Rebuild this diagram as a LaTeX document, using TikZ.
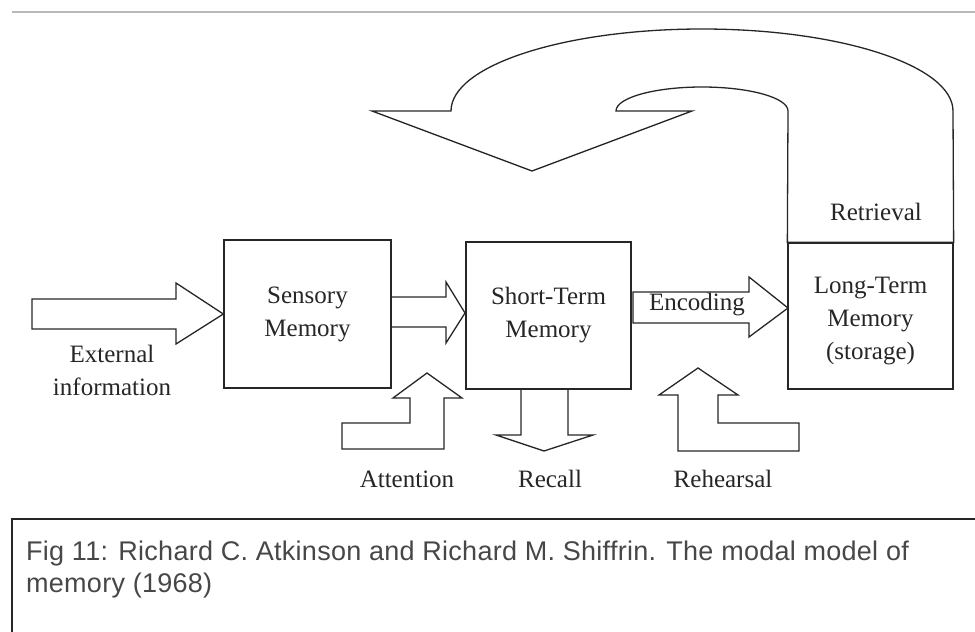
\documentclass[tikz,border=0pt]{standalone}
\usepackage{fontspec}
\setmainfont{Liberation Serif}
\newfontfamily\capfont[LetterSpace=1]{Liberation Sans}
\definecolor{ink}{HTML}{262626}
\definecolor{capink}{HTML}{474747}
\begin{document}
\begin{tikzpicture}[x=1pt,y=-1pt,
  box/.style={draw=ink, line width=1.3pt, inner sep=0pt, align=center,
    font=\fontsize{25}{33}\selectfont, text=ink},
  blk/.style={draw=ink, line width=1.3pt, line join=miter},
  lbl/.style={font=\fontsize{25}{33}\selectfont, text=ink, align=center, inner sep=0pt},
  captxt/.style={font=\capfont\fontsize{27}{32}\selectfont, text=capink, inner sep=0pt, anchor=base west}]
\useasboundingbox (0,0) rectangle (975,632);
% top rule
\draw[gray!55, line width=1.2pt] (12,12) -- (975,12);
% boxes
\node[box, minimum width=167pt, minimum height=148pt] (sm) at (307.5,314) {Sensory\\Memory};
\node[box, minimum width=165pt, minimum height=147pt] (stm) at (548.5,315.5) {Short-Term\\Memory};
\node[box, minimum width=165pt, minimum height=146pt] (ltm) at (870.5,316) {};
\node[lbl] (ltmtxt) at (ltm.center) [yshift=-5pt] {Long-Term\\Memory\\(storage)};
% retrieval curved arrow
\draw[blk] (372,111) -- (451,111)
  .. controls (451,65.7) and (563.4,29) .. (702,29)
  .. controls (840.6,29) and (953,65.7) .. (953,111)
  -- (ltm.north east) -- (ltm.north west) -- (788,111)
  .. controls (788,97.7) and (749.5,87) .. (702,87)
  .. controls (654.5,87) and (616,97.7) .. (616,111)
  -- (692,111) -- (532,171) -- cycle;
\node[lbl] (retr) at (876,212) {Retrieval};
% external information arrow
\draw[blk] (32,299) -- (176,299) -- (176,283) -- (sm.west) -- (176,344) -- (176,329) -- (32,329) -- cycle;
\node[lbl] (ext) at (112,370) {External\\information};
% sensory -> STM
\draw[blk] (sm.east |- 0,297) -- (446,297) -- (446,282) -- (465,313) -- (446,343) -- (446,327) -- (sm.east |- 0,327);
% encoding
\draw[blk] (633,292) -- (749,292) -- (749,277) -- (788,308) -- (749,337) -- (749,323) -- (633,323) -- cycle;
\node[lbl] (enc) at (697,305) {Encoding};
% recall
\draw[blk] (521,389) -- (521,435) -- (496,435) -- (544,451) -- (593,435) -- (568,435) -- (568,389);
\node[lbl] (recall) at (550,479) {Recall};
% attention
\draw[blk] (427,373) -- (462,398) -- (444,398) -- (444,449) -- (342,449) -- (342,423) -- (410,423) -- (410,398) -- (393,398) -- cycle;
\node[lbl] (att) at (407,479) {Attention};
% rehearsal
\draw[blk] (698,368) -- (738,395) -- (718,395) -- (718,423) -- (799,423) -- (799,451) -- (678,451) -- (678,395) -- (659,395) -- cycle;
\node[lbl] (reh) at (723,479) {Rehearsal};
% caption box
\draw[ink, line width=1.3pt] (12,640) -- (12,519) -- (985,519);
\node[captxt] (cap1) at (26,560) {Fig 11: Richard C. Atkinson and Richard M. Shiffrin. The modal model of};
\node[captxt] (cap2) at (26,592) {memory (1968)};
\end{tikzpicture}
\end{document}
